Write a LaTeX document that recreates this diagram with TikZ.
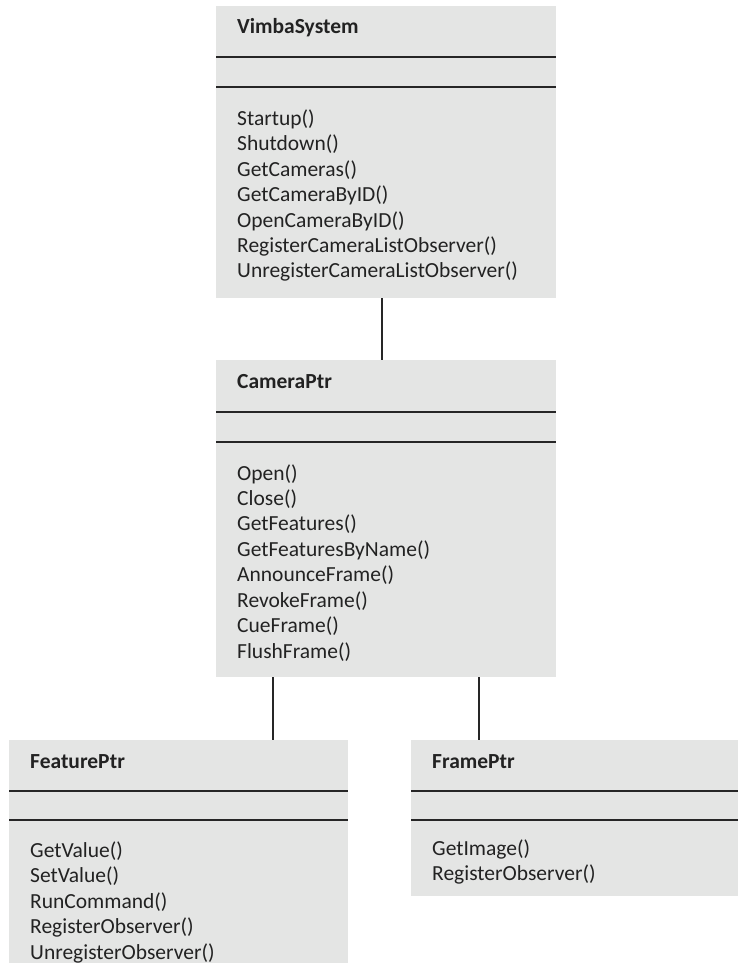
\documentclass[tikz,border=0pt]{standalone}
\usepackage{fontspec}
\setmainfont{Carlito}
\usetikzlibrary{calc}
\definecolor{boxfill}{HTML}{E4E5E4}
\definecolor{ink}{HTML}{222222}
\definecolor{rulec}{HTML}{262626}
\tikzset{
  classbox/.style={rectangle, draw=none, fill=boxfill, inner sep=0pt, outer sep=0pt, anchor=north west},
  classtitle/.style={font=\fontsize{21.5}{25.4}\selectfont\bfseries, text=ink, anchor=base west, inner sep=0pt},
  methods/.style={font=\fontsize{21.5}{25.45}\selectfont, text=ink, anchor=north west, inner sep=0pt, align=left},
  sepline/.style={draw=rulec, line width=2.2pt},
  link/.style={draw=rulec, line width=2pt},
}
\begin{document}
\begin{tikzpicture}[x=1pt, y=-1pt]
\useasboundingbox (0,0) rectangle (738,966);

% boxes
\node[classbox, minimum width=340pt, minimum height=292pt] (V) at (216,6) {};
\node[classbox, minimum width=340pt, minimum height=317pt] (C) at (216,360) {};
\node[classbox, minimum width=339pt, minimum height=223pt] (F) at (9,740) {};
\node[classbox, minimum width=327pt, minimum height=156pt] (R) at (411,740) {};

% separators
\draw[sepline] ($(V.north west)+(0,51)$) -- ($(V.north east)+(0,51)$);
\draw[sepline] ($(V.north west)+(0,81)$) -- ($(V.north east)+(0,81)$);
\draw[sepline] ($(C.north west)+(0,52)$) -- ($(C.north east)+(0,52)$);
\draw[sepline] ($(C.north west)+(0,82)$) -- ($(C.north east)+(0,82)$);
\draw[sepline] ($(F.north west)+(0,51)$) -- ($(F.north east)+(0,51)$);
\draw[sepline] ($(F.north west)+(0,80)$) -- ($(F.north east)+(0,80)$);
\draw[sepline] ($(R.north west)+(0,51)$) -- ($(R.north east)+(0,51)$);
\draw[sepline] ($(R.north west)+(0,80)$) -- ($(R.north east)+(0,80)$);

% titles
\node[classtitle] (Vt) at (237,34) {VimbaSystem};
\node[classtitle] (Ct) at (237,388) {CameraPtr};
\node[classtitle] (Ft) at (30,768) {FeaturePtr};
\node[classtitle] (Rt) at (432,768) {FramePtr};

% methods
\node[methods] (Vm) at (237,107.2) {\strut Startup()\\ Shutdown()\\ GetCameras()\\ GetCameraByID()\\ OpenCameraByID()\\ RegisterCameraListObserver()\\ UnregisterCameraListObserver()};
\node[methods] (Cm) at (237,462) {\strut Open()\\ Close()\\ GetFeatures()\\ GetFeaturesByName()\\ AnnounceFrame()\\ RevokeFrame()\\ CueFrame()\\ FlushFrame()};
\node[methods] (Fm) at (30,839.5) {\strut GetValue()\\ SetValue()\\ RunCommand()\\ RegisterObserver()\\ UnregisterObserver()};
\node[methods] (Rm) at (432,837.5) {\strut GetImage()\\ RegisterObserver()};

% connectors
\coordinate (vc) at ($(V.south west)+(166,0)$);
\draw[link] (vc) -- (vc |- C.north);
\coordinate (cf) at ($(C.south west)+(57,0)$);
\draw[link] (cf) -- (cf |- F.north);
\coordinate (cr) at ($(C.south west)+(263,0)$);
\draw[link] (cr) -- (cr |- R.north);
\end{tikzpicture}
\end{document}
